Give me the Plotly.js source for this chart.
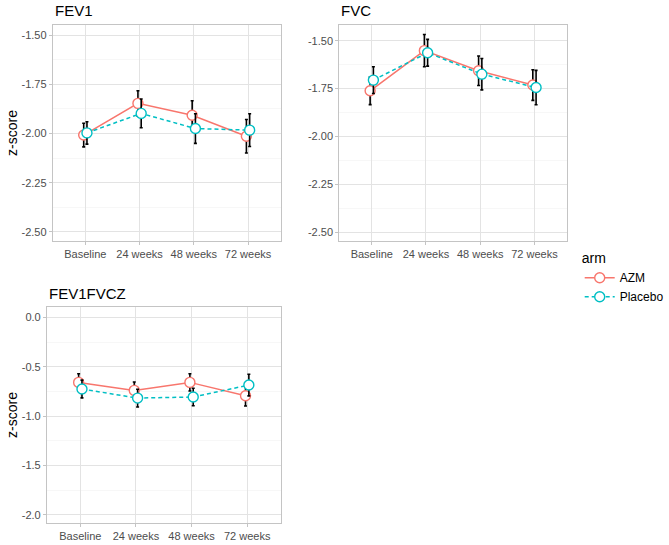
<!DOCTYPE html>
<html><head><meta charset="utf-8">
<script src="https://cdn.plot.ly/plotly-3.0.1.min.js"></script>
<style>html,body{margin:0;padding:0;background:#fff}#chart{width:669px;height:545px}</style>
</head><body><div id="chart"></div>
<script>
const categories = ['Baseline', '24 weeks', '48 weeks', '72 weeks'];
const arms = ['AZM', 'Placebo'];

// FEV1
const fev1AZM = [-2.008, -1.847, -1.907, -2.014];
const fev1AZMse = [0.060, 0.064, 0.073, 0.085];
const fev1PLA = [-1.997, -1.898, -1.975, -1.983];
const fev1PLAse = [0.057, 0.073, 0.075, 0.083];

// FVC
const fvcAZM = [-1.762, -1.552, -1.657, -1.732];
const fvcAZMse = [0.072, 0.084, 0.077, 0.080];
const fvcPLA = [-1.706, -1.563, -1.675, -1.745];
const fvcPLAse = [0.070, 0.070, 0.082, 0.090];

// FEV1FVCZ
const ratioAZM = [-0.659, -0.740, -0.659, -0.794];
const ratioAZMse = [0.088, 0.085, 0.088, 0.105];
const ratioPLA = [-0.726, -0.818, -0.807, -0.686];
const ratioPLAse = [0.090, 0.090, 0.088, 0.110];

const fevTickVals = [-2.5, -2.25, -2.0, -1.75, -1.5];
const fevTickText = ['-2.50', '-2.25', '-2.00', '-1.75', '-1.50'];
const ratioTickVals = [-2.0, -1.5, -1.0, -0.5, 0.0];
const ratioTickText = ['-2.0', '-1.5', '-1.0', '-0.5', '0.0'];

const colors = {AZM: '#F8766D', Placebo: '#00BFC4'};
const dashes = {AZM: 'solid', Placebo: '4px,3px'};
const dodge = {AZM: -0.03, Placebo: 0.03};

function trace(arm, vals, se, xa, ya, showlegend) {
  return {
    type: 'scatter', mode: 'lines+markers', name: arm, legendgroup: arm, showlegend: showlegend,
    x: categories.map((c, i) => i + dodge[arm]), y: vals,
    xaxis: xa, yaxis: ya,
    line: {color: colors[arm], width: 1.5, dash: dashes[arm]},
    marker: {symbol: 'circle', size: 10, color: '#ffffff', line: {color: colors[arm], width: 1.4}},
    error_y: {type: 'data', array: se, visible: true, color: '#000000', thickness: 1.6, width: 1.5},
    hoverinfo: 'x+y'
  };
}

const data = [
  trace('AZM', fev1AZM, fev1AZMse, 'x', 'y', true),
  trace('Placebo', fev1PLA, fev1PLAse, 'x', 'y', true),
  trace('AZM', fvcAZM, fvcAZMse, 'x2', 'y2', false),
  trace('Placebo', fvcPLA, fvcPLAse, 'x2', 'y2', false),
  trace('AZM', ratioAZM, ratioAZMse, 'x3', 'y3', false),
  trace('Placebo', ratioPLA, ratioPLAse, 'x3', 'y3', false)
];

const W = 669, H = 545;
const tickFont = {family: 'Liberation Sans, Arial, sans-serif', size: 11, color: '#4d4d4d'};
function xaxis(l, r, anchor) {
  return {
    domain: [l / W, r / W], anchor: anchor, range: [-0.6, 3.6],
    tickvals: categories.map((c, i) => i), ticktext: categories,
    showgrid: true, gridcolor: '#e3e3e3', gridwidth: 1,
    showline: true, mirror: true, linecolor: '#c4c4c4', linewidth: 1,
    ticks: 'outside', ticklen: 3, tickcolor: '#c4c4c4', tickfont: tickFont,
    zeroline: false, fixedrange: true
  };
}
function yaxis(top, bottom, anchor, range, tv, tt, minorD, title) {
  return {
    domain: [(H - bottom) / H, (H - top) / H], anchor: anchor, range: range,
    tickvals: tv, ticktext: tt,
    showgrid: true, gridcolor: '#e3e3e3', gridwidth: 1,
    minor: {dtick: minorD, tick0: 0, showgrid: true, gridcolor: '#f1f1f1', gridwidth: 0.6, ticks: ''},
    showline: true, mirror: true, linecolor: '#c4c4c4', linewidth: 1,
    ticks: 'outside', ticklen: 3, tickcolor: '#c4c4c4', tickfont: tickFont,
    zeroline: false, fixedrange: true,
    title: title ? {text: title, font: {family: 'Liberation Sans, Arial, sans-serif', size: 14, color: '#000'}, standoff: 0} : {text: ''}
  };
}

const layout = {
  width: W, height: H,
  margin: {l: 0, r: 0, t: 0, b: 0},
  paper_bgcolor: '#ffffff', plot_bgcolor: '#ffffff',
  font: {family: 'Liberation Sans, Arial, sans-serif'},
  xaxis: xaxis(54, 287, 'y'),
  yaxis: yaxis(25, 241, 'x', [-2.546, -1.449], fevTickVals, fevTickText, 0.125, 'z-score'),
  xaxis2: xaxis(347, 580, 'y2'),
  yaxis2: yaxis(25, 241, 'x2', [-2.547, -1.418], fevTickVals, fevTickText, 0.125, ''),
  xaxis3: xaxis(48, 287, 'y3'),
  yaxis3: yaxis(307, 523, 'x3', [-2.084, 0.105], ratioTickVals, ratioTickText, 0.25, 'z-score'),
  showlegend: true,
  legend: {
    title: {text: 'arm', font: {size: 14, color: '#000'}},
    x: 593 / W, y: (H - 245) / H, xanchor: 'left', yanchor: 'top',
    font: {size: 12, color: '#000'}, bgcolor: 'rgba(0,0,0,0)',
    itemwidth: 30, tracegroupgap: 0
  },
  annotations: [
    {text: 'FEV1', x: 54 / W, y: (H - 10) / H, xref: 'paper', yref: 'paper', xanchor: 'left', yanchor: 'middle', showarrow: false, font: {size: 15, color: '#000'}},
    {text: 'FVC', x: 347 / W, y: (H - 10) / H, xref: 'paper', yref: 'paper', xanchor: 'left', yanchor: 'middle', showarrow: false, font: {size: 15, color: '#000'}},
    {text: 'FEV1FVCZ', x: 48 / W, y: (H - 293) / H, xref: 'paper', yref: 'paper', xanchor: 'left', yanchor: 'middle', showarrow: false, font: {size: 15, color: '#000'}}
  ]
};

Plotly.newPlot('chart', data, layout, {displayModeBar: false, staticPlot: true});
</script>
</body></html>
